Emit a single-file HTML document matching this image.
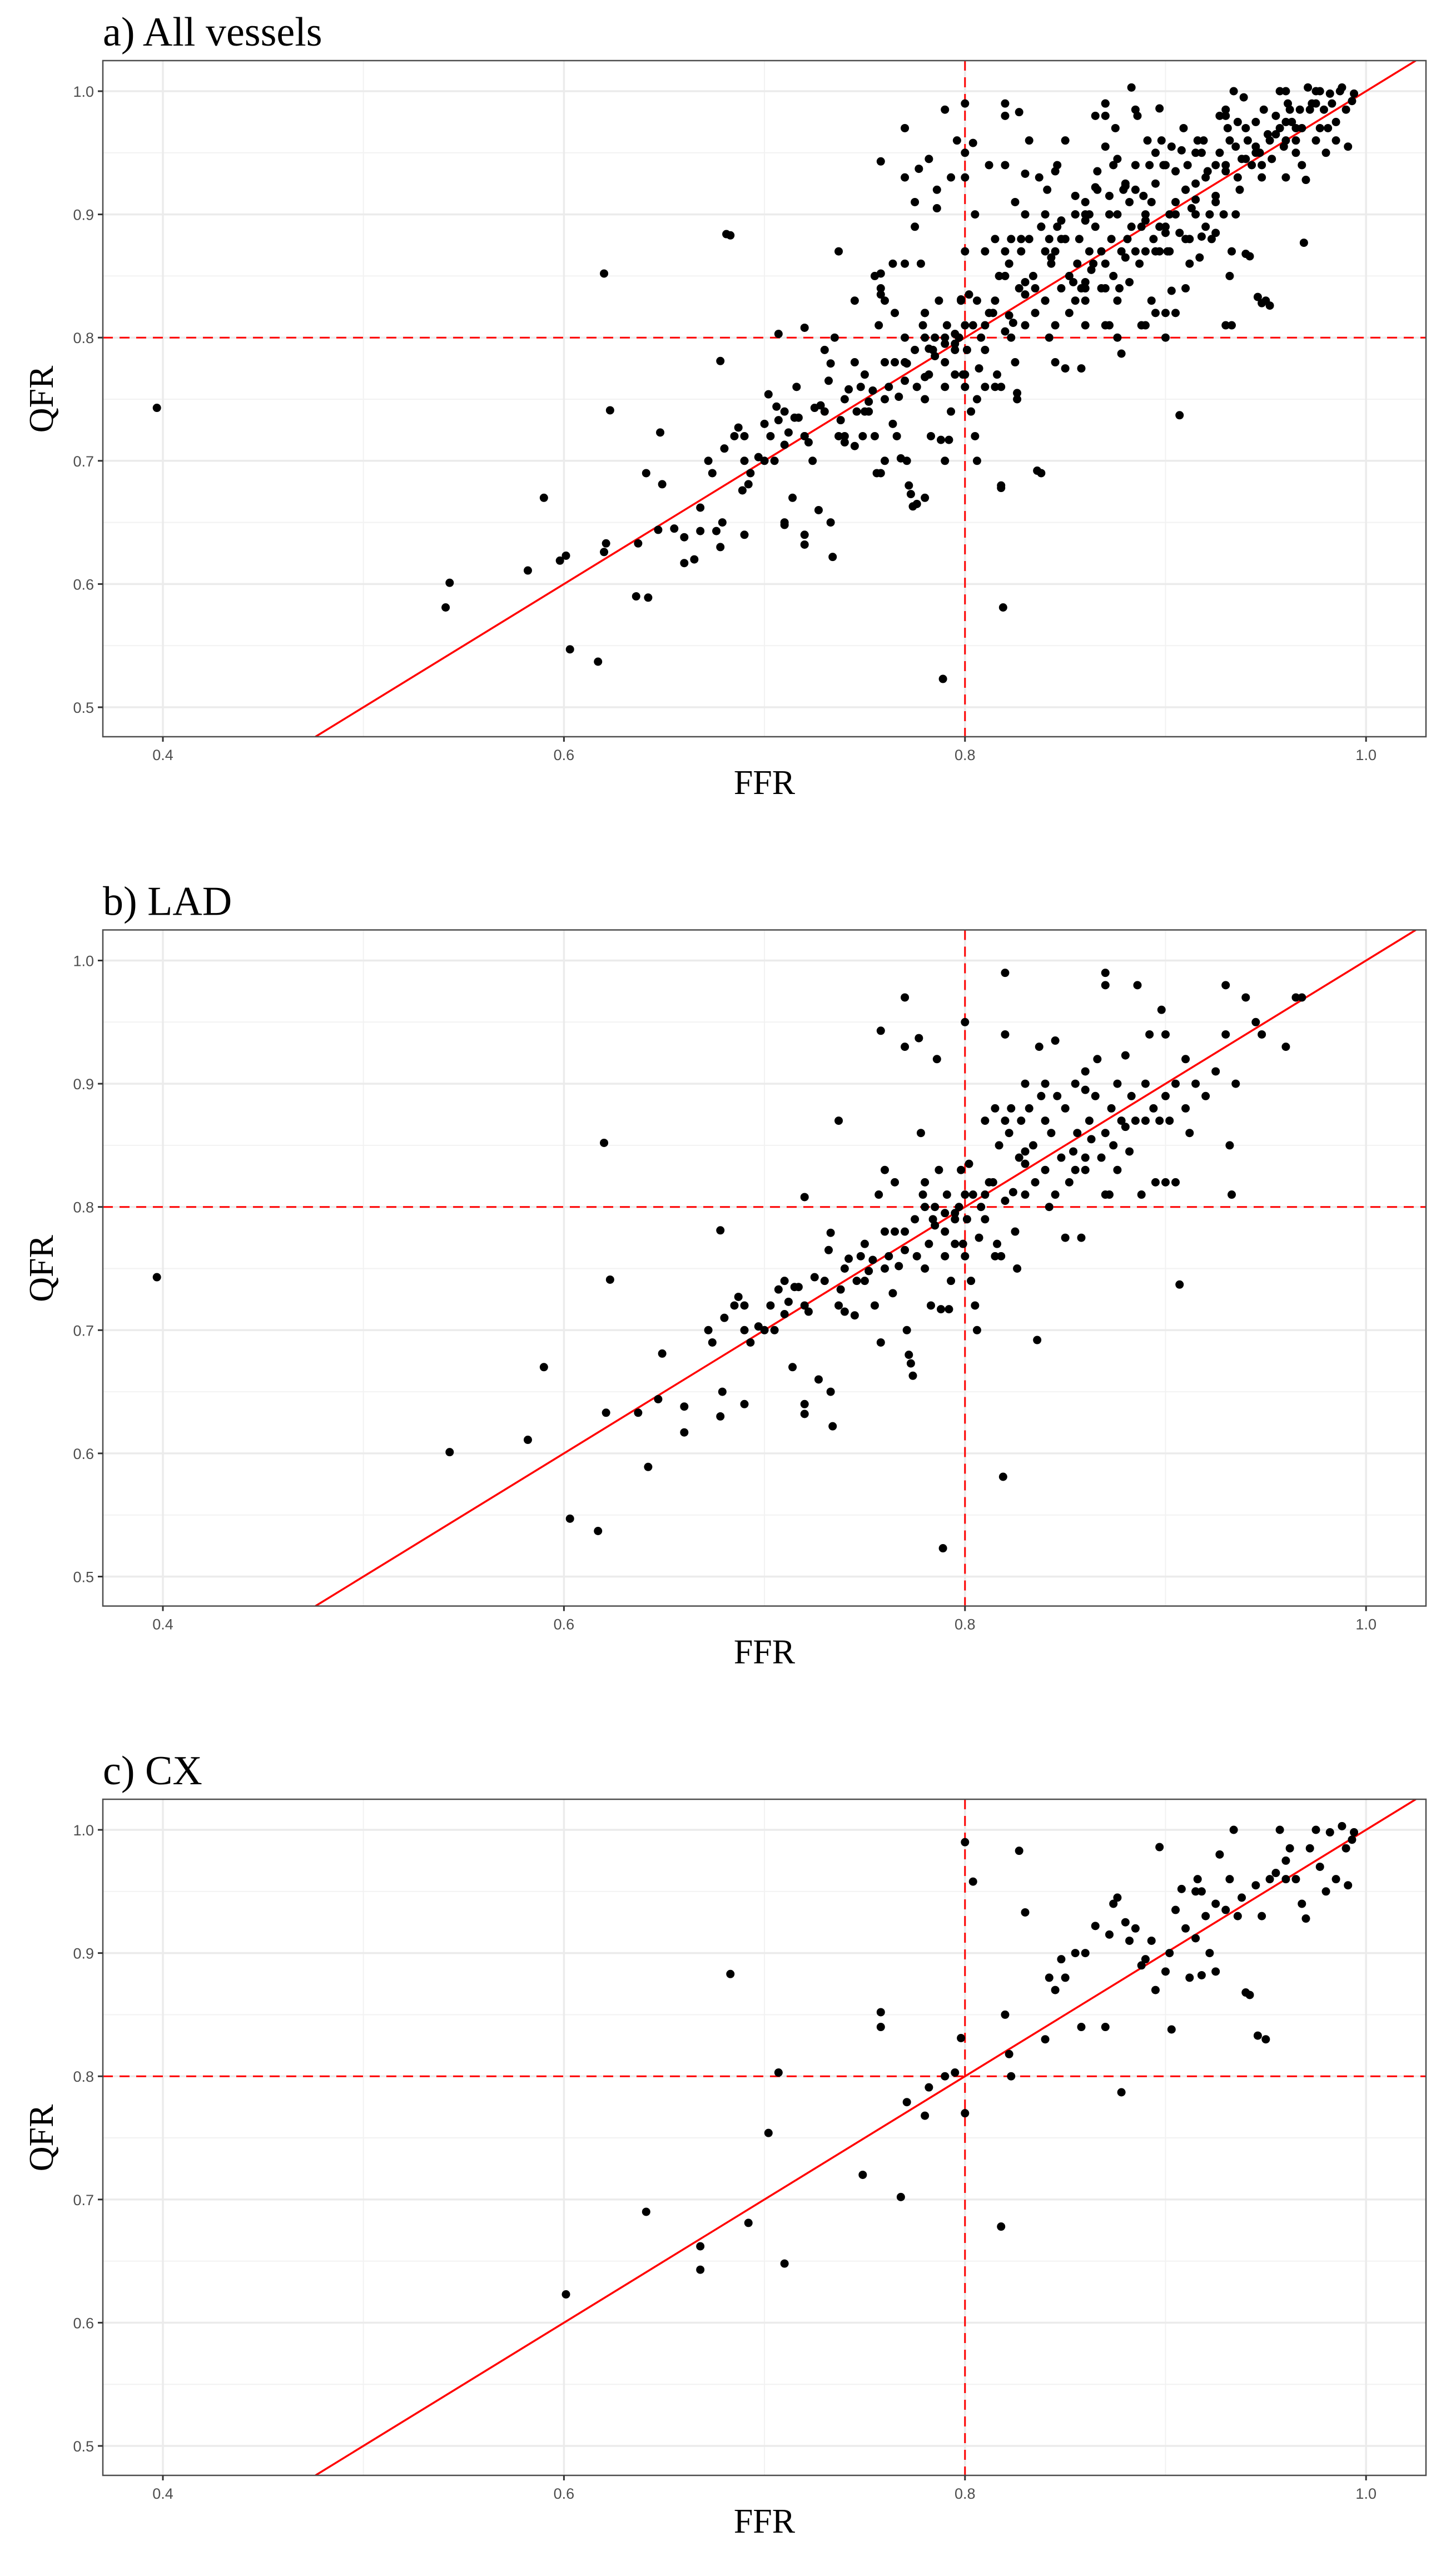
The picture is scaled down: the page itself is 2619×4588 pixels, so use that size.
<!DOCTYPE html>
<html>
<head>
<meta charset="utf-8">
<style>
  html,body{margin:0;padding:0;background:#fff;}
  svg{display:block;}
  .tick{font-family:"Liberation Sans",sans-serif;font-size:27px;fill:#4d4d4d;}
  .ttl{font-family:"Liberation Serif",serif;font-size:74px;fill:#000;}
  .axt{font-family:"Liberation Serif",serif;font-size:62px;fill:#000;}
</style>
</head>
<body>
<svg id="chart" width="2619" height="4588" viewBox="0 0 2619 4588" xmlns="http://www.w3.org/2000/svg"></svg>
<script>
// ---- data ----
const panelTitles = ["a) All vessels", "b) LAD", "c) CX"];
const xTicks = [0.4, 0.6, 0.8, 1.0];
const xTickLabels = ["0.4", "0.6", "0.8", "1.0"];
const yTicks = [0.5, 0.6, 0.7, 0.8, 0.9, 1.0];
const yTickLabels = ["0.5", "0.6", "0.7", "0.8", "0.9", "1.0"];
const cutoff = 0.8;

const ladFFR = [0.397,0.543,0.582,0.59,0.603,0.617,0.62,0.623,0.621,0.637,0.642,0.647,0.649,0.66,0.66,0.678,0.678,0.679,0.672,0.674,0.68,0.685,0.687,0.69,0.69,0.693,0.697,0.70,0.703,0.707,0.71,0.712,0.715,0.714,0.717,0.72,0.72,0.72,0.722,0.725,0.727,0.73,0.732,0.733,0.733,0.734,0.737,0.737,0.738,0.74,0.742,0.745,0.746,0.748,0.75,0.752,0.754,0.755,0.757,0.758,0.758,0.76,0.76,0.762,0.764,0.765,0.767,0.77,0.77,0.77,0.771,0.772,0.773,0.774,0.775,0.776,0.777,0.778,0.779,0.78,0.78,0.782,0.783,0.784,0.785,0.786,0.787,0.788,0.789,0.79,0.79,0.791,0.792,0.793,0.795,0.795,0.797,0.798,0.799,0.80,0.80,0.801,0.802,0.803,0.804,0.805,0.806,0.807,0.808,0.81,0.81,0.812,0.814,0.815,0.816,0.817,0.818,0.819,0.82,0.82,0.82,0.822,0.823,0.824,0.826,0.827,0.828,0.83,0.83,0.832,0.834,0.835,0.836,0.837,0.838,0.84,0.84,0.842,0.843,0.845,0.846,0.848,0.85,0.85,0.852,0.854,0.855,0.856,0.858,0.86,0.86,0.862,0.863,0.865,0.866,0.868,0.87,0.87,0.87,0.872,0.873,0.874,0.876,0.878,0.88,0.882,0.883,0.885,0.886,0.888,0.89,0.892,0.894,0.895,0.897,0.898,0.90,0.90,0.902,0.905,0.907,0.91,0.91,0.912,0.915,0.92,0.925,0.93,0.93,0.932,0.933,0.935,0.94,0.945,0.948,0.96,0.965,0.968,0.88,0.86,0.845,0.82,0.83,0.79,0.77,0.75,0.765,0.83,0.86,0.84,0.81,0.80,0.795,0.785,0.876,0.89,0.905,0.9,0.87,0.855,0.825,0.815,0.78,0.76,0.74,0.705,0.69,0.72,0.71];
const ladQFR = [0.743,0.601,0.611,0.67,0.547,0.537,0.852,0.741,0.633,0.633,0.589,0.644,0.681,0.617,0.638,0.781,0.63,0.65,0.70,0.69,0.71,0.72,0.727,0.64,0.70,0.69,0.703,0.70,0.72,0.733,0.713,0.723,0.735,0.67,0.735,0.808,0.64,0.632,0.715,0.743,0.66,0.74,0.765,0.779,0.65,0.622,0.87,0.72,0.733,0.75,0.758,0.712,0.74,0.76,0.77,0.748,0.757,0.72,0.81,0.943,0.69,0.78,0.83,0.76,0.73,0.82,0.752,0.97,0.93,0.78,0.70,0.68,0.673,0.663,0.79,0.76,0.937,0.86,0.81,0.80,0.75,0.77,0.72,0.79,0.80,0.92,0.83,0.717,0.523,0.78,0.76,0.81,0.717,0.74,0.79,0.77,0.80,0.83,0.77,0.95,0.76,0.79,0.835,0.74,0.81,0.72,0.70,0.775,0.80,0.87,0.79,0.82,0.82,0.88,0.77,0.85,0.76,0.581,0.99,0.94,0.805,0.86,0.88,0.812,0.75,0.84,0.87,0.90,0.81,0.88,0.85,0.82,0.692,0.93,0.89,0.87,0.83,0.80,0.86,0.935,0.89,0.84,0.88,0.775,0.82,0.845,0.90,0.86,0.775,0.91,0.83,0.87,0.855,0.89,0.92,0.84,0.99,0.98,0.86,0.81,0.88,0.85,0.90,0.87,0.923,0.845,0.89,0.87,0.98,0.81,0.90,0.94,0.88,0.82,0.87,0.96,0.94,0.89,0.87,0.90,0.737,0.92,0.88,0.86,0.90,0.89,0.91,0.98,0.94,0.85,0.81,0.90,0.97,0.95,0.94,0.93,0.97,0.97,0.865,0.84,0.81,0.87,0.835,0.795,0.765,0.74,0.78,0.845,0.895,0.90,0.81,0.81,0.795,0.785,0.83,0.87,0.82,0.82,0.81,0.83,0.78,0.76,0.82,0.75,0.715,0.70,0.72,0.72,0.74];

const cxFFR = [0.601,0.641,0.668,0.668,0.683,0.692,0.702,0.707,0.71,0.749,0.758,0.758,0.768,0.771,0.78,0.782,0.79,0.795,0.798,0.80,0.80,0.804,0.818,0.82,0.822,0.823,0.827,0.83,0.84,0.842,0.845,0.848,0.85,0.855,0.858,0.86,0.865,0.87,0.872,0.874,0.876,0.878,0.88,0.882,0.885,0.888,0.89,0.893,0.895,0.897,0.9,0.902,0.903,0.905,0.908,0.91,0.912,0.915,0.916,0.918,0.92,0.922,0.925,0.927,0.93,0.932,0.934,0.936,0.938,0.94,0.942,0.945,0.946,0.948,0.95,0.952,0.955,0.957,0.96,0.962,0.965,0.968,0.97,0.972,0.975,0.977,0.98,0.982,0.985,0.988,0.99,0.991,0.993,0.994,0.96,0.925,0.915,0.918];
const cxQFR = [0.623,0.69,0.662,0.643,0.883,0.681,0.754,0.803,0.648,0.72,0.852,0.84,0.702,0.779,0.768,0.791,0.80,0.803,0.831,0.77,0.99,0.958,0.678,0.85,0.818,0.80,0.983,0.933,0.83,0.88,0.87,0.895,0.88,0.90,0.84,0.90,0.922,0.84,0.915,0.94,0.945,0.787,0.925,0.91,0.92,0.89,0.895,0.91,0.87,0.986,0.885,0.90,0.838,0.935,0.952,0.92,0.88,0.95,0.96,0.95,0.93,0.90,0.94,0.98,0.935,0.96,1.0,0.93,0.945,0.868,0.866,0.955,0.833,0.93,0.83,0.96,0.965,1.0,0.96,0.985,0.96,0.94,0.928,0.985,1.0,0.97,0.95,0.998,0.96,1.003,0.985,0.955,0.992,0.998,0.975,0.885,0.912,0.882];

const otherFFR = [0.541,0.598,0.62,0.636,0.648,0.655,0.665,0.676,0.681,0.689,0.70,0.706,0.71,0.728,0.735,0.745,0.752,0.758,0.764,0.77,0.775,0.78,0.782,0.786,0.79,0.793,0.796,0.797,0.8,0.806,0.81,0.815,0.82,0.822,0.825,0.828,0.832,0.835,0.838,0.841,0.843,0.846,0.848,0.85,0.852,0.855,0.857,0.86,0.862,0.864,0.866,0.868,0.87,0.872,0.875,0.877,0.879,0.881,0.883,0.885,0.887,0.889,0.891,0.893,0.895,0.897,0.899,0.901,0.903,0.905,0.907,0.909,0.911,0.913,0.915,0.917,0.919,0.921,0.923,0.925,0.927,0.929,0.931,0.933,0.935,0.937,0.939,0.941,0.943,0.945,0.947,0.949,0.951,0.953,0.955,0.957,0.959,0.961,0.963,0.965,0.967,0.969,0.971,0.973,0.975,0.977,0.979,0.981,0.983,0.985,0.987,0.952,0.948,0.93,0.91,0.9,0.89,0.876,0.86,0.845,0.838,0.826,0.818,0.806,0.79,0.78,0.776,0.766,0.76,0.756,0.74,0.724,0.72,0.716,0.73,0.745,0.755,0.77,0.775,0.8,0.805,0.812,0.865,0.87,0.885,0.895,0.93,0.936,0.94,0.96,0.975];
const otherQFR = [0.581,0.619,0.626,0.59,0.723,0.645,0.62,0.643,0.884,0.676,0.73,0.744,0.65,0.745,0.80,0.78,0.74,0.835,0.86,0.80,0.89,0.82,0.945,0.905,0.985,0.93,0.96,0.80,0.87,0.83,0.76,0.83,0.98,0.86,0.91,0.88,0.96,0.84,0.89,0.92,0.865,0.94,0.88,0.96,0.85,0.915,0.88,0.845,0.90,0.86,0.935,0.87,0.955,0.90,0.97,0.84,0.92,0.88,1.003,0.94,0.86,0.915,0.96,0.83,0.925,0.89,0.94,0.87,0.955,0.91,0.885,0.97,0.94,0.905,0.925,0.865,0.96,0.935,0.88,0.915,0.95,0.90,0.97,0.87,0.955,0.92,0.995,0.96,0.94,0.975,0.95,0.985,0.965,0.945,0.98,0.97,0.955,0.99,0.975,0.95,0.985,0.877,1.003,0.99,0.96,1.0,0.985,0.97,0.99,0.975,1.0,0.826,0.828,0.81,0.84,0.80,0.81,0.80,0.81,0.78,0.69,0.755,0.68,0.75,0.70,0.67,0.665,0.72,0.70,0.69,0.72,0.70,0.72,0.76,0.79,0.83,0.85,0.86,0.91,0.93,0.90,0.94,0.98,0.99,0.985,0.95,0.985,0.975,0.945,1.0,0.99];

// ---- layout ----
const NS = "http://www.w3.org/2000/svg";
const svg = document.getElementById("chart");
const PANEL_STEP = 1563.5;
const LEFT = 185, RIGHT = 2565;
const X0 = 293, XUNIT = 3607;          // px per 1.0 of FFR
const YUNIT = 2216;                    // px per 1.0 of QFR
const XMIN = 0.4 + (LEFT - X0) / XUNIT, XMAX = 0.4 + (RIGHT - X0) / XUNIT;

function mk(tag, attrs, parent) {
  const e = document.createElementNS(NS, tag);
  for (const k in attrs) e.setAttribute(k, attrs[k]);
  (parent || svg).appendChild(e);
  return e;
}

function drawPanel(i, title, xs, ys) {
  const dy = i * PANEL_STEP;
  const TOP = 109 + dy, BOT = 1325 + dy;
  const X = v => X0 + (v - 0.4) * XUNIT;
  const Y = v => 164 + dy + (1 - v) * YUNIT;
  const yAt = px => 1 - (px - 164 - dy) / YUNIT;
  const YMIN = yAt(BOT), YMAX = yAt(TOP);

  const g = mk("g", {});
  
  

  const t = mk("text", {x: LEFT, y: 82 + dy, class: "ttl"}, g);
  t.textContent = title;
  
  

  const clipId = "clip" + i;
  const cp = mk("clipPath", {id: clipId}, g);
  mk("rect", {x: LEFT, y: TOP, width: RIGHT - LEFT, height: BOT - TOP}, cp);

  const grid = mk("g", {}, g);
  
  
  // minor grid
  for (let v = 0.3; v <= 1.11; v += 0.1) {
    const xv = Math.round(v * 10) / 10 + 0.05 - 0.05;
  }
  [0.5, 0.7, 0.9].forEach(v => mk("line", {x1: X(v), x2: X(v), y1: TOP, y2: BOT, stroke: "#f2f2f2", "stroke-width": 2}, grid));
  [0.55, 0.65, 0.75, 0.85, 0.95].forEach(v => mk("line", {x1: LEFT, x2: RIGHT, y1: Y(v), y2: Y(v), stroke: "#f2f2f2", "stroke-width": 2}, grid));
  xTicks.forEach(v => mk("line", {x1: X(v), x2: X(v), y1: TOP, y2: BOT, stroke: "#ebebeb", "stroke-width": 3.5}, grid));
  yTicks.forEach(v => mk("line", {x1: LEFT, x2: RIGHT, y1: Y(v), y2: Y(v), stroke: "#ebebeb", "stroke-width": 3.5}, grid));

  // reference lines
  const vref = mk("line", {x1: X(cutoff), x2: X(cutoff), y1: TOP, y2: BOT, stroke: "#ff0000", "stroke-width": 3, "stroke-dasharray": "18 12"}, g);
  
  
  const href = mk("line", {x1: LEFT, x2: RIGHT, y1: Y(cutoff), y2: Y(cutoff), stroke: "#ff0000", "stroke-width": 3, "stroke-dasharray": "18 12"}, g);
  
  
  const lo = Math.max(XMIN, YMIN), hi = Math.min(XMAX, YMAX);
  const ident = mk("line", {x1: X(lo), y1: Y(lo), x2: X(hi), y2: Y(hi), stroke: "#ff0000", "stroke-width": 3.5, "clip-path": "url(#" + clipId + ")"}, g);
  
  

  // points
  const pts = mk("g", {"clip-path": "url(#" + clipId + ")"}, g);
  
  
  for (let k = 0; k < xs.length; k++) {
    const c = mk("circle", {cx: X(xs[k]), cy: Y(ys[k]), r: 7.5, fill: "#000"}, pts);
    
    
  }

  // border
  const border = mk("rect", {x: LEFT, y: TOP, width: RIGHT - LEFT, height: BOT - TOP, fill: "none", stroke: "#4d4d4d", "stroke-width": 2.5}, g);
  
  

  // ticks
  xTicks.forEach((v, j) => {
    mk("line", {x1: X(v), x2: X(v), y1: BOT, y2: BOT + 9, stroke: "#333", "stroke-width": 3}, g);
    const l = mk("text", {x: X(v), y: BOT + 42, "text-anchor": "middle", class: "tick"}, g);
    l.textContent = xTickLabels[j];
    
    
  });
  yTicks.forEach((v, j) => {
    mk("line", {x1: LEFT - 9, x2: LEFT, y1: Y(v), y2: Y(v), stroke: "#333", "stroke-width": 3}, g);
    const l = mk("text", {x: LEFT - 16, y: Y(v) + 10, "text-anchor": "end", class: "tick"}, g);
    l.textContent = yTickLabels[j];
    
    
  });

  const xt = mk("text", {x: (LEFT + RIGHT) / 2, y: 1428 + dy, "text-anchor": "middle", class: "axt"}, g);
  xt.textContent = "FFR";
  
  
  const yt = mk("text", {x: 0, y: 0, "text-anchor": "middle", class: "axt", transform: "translate(95," + (718 + dy) + ") rotate(-90)"}, g);
  yt.textContent = "QFR";
  
  
}

const allFFR = ladFFR.concat(cxFFR, otherFFR);
const allQFR = ladQFR.concat(cxQFR, otherQFR);
drawPanel(0, panelTitles[0], allFFR, allQFR);
drawPanel(1, panelTitles[1], ladFFR, ladQFR);
drawPanel(2, panelTitles[2], cxFFR, cxQFR);
</script>
</body>
</html>
